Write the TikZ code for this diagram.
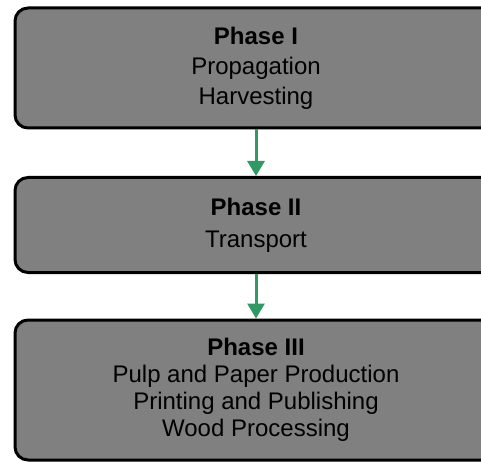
\documentclass[tikz,border=0pt]{standalone}
\usepackage{fontspec}
\setmainfont{Liberation Sans}
\usetikzlibrary{arrows.meta}
\definecolor{phase-grey}{HTML}{808080}
\definecolor{flow-green}{HTML}{2F9A64}

\begin{document}
\begin{tikzpicture}[x=1pt, y=-1pt,
    phasebox/.style={draw=black, line width=3pt, fill=phase-grey,
          rounded corners=13pt, minimum width=482pt, inner sep=0pt,
          align=center},
    flow/.style={-{Triangle[width=17pt, length=15pt]}, line width=3pt,
          draw=flow-green}]
    % Diagram: three phase boxes stacked, right edges run off the page.
    % Coordinates: (x, y) in px, y pointing down
    %   page 481 x 462, clipped
    %   phase I   at (256,68),  height 120
    %   phase II  at (256,225), height 95
    %   phase III at (256,390), height 140
    \clip (0,0) rectangle (481,462);
    \node[phasebox, minimum height=120pt, font=\fontsize{24}{30}\selectfont]
          (phase1) at (256,68)
          {\textbf{Phase I}\\ Propagation\\ Harvesting};
    \node[phasebox, minimum height=95pt, font=\fontsize{24}{32}\selectfont]
          (phase2) at (256,225)
          {\textbf{Phase II}\\ Transport};
    \node[phasebox, minimum height=140pt, font=\fontsize{24}{27}\selectfont]
          (phase3) at (256,390)
          {\textbf{Phase III}\\ Pulp and Paper Production\\
           Printing and Publishing\\ Wood Processing};
    \draw[flow] (phase1) -- (phase2);
    \draw[flow] (phase2) -- (phase3);
\end{tikzpicture}
\end{document}
